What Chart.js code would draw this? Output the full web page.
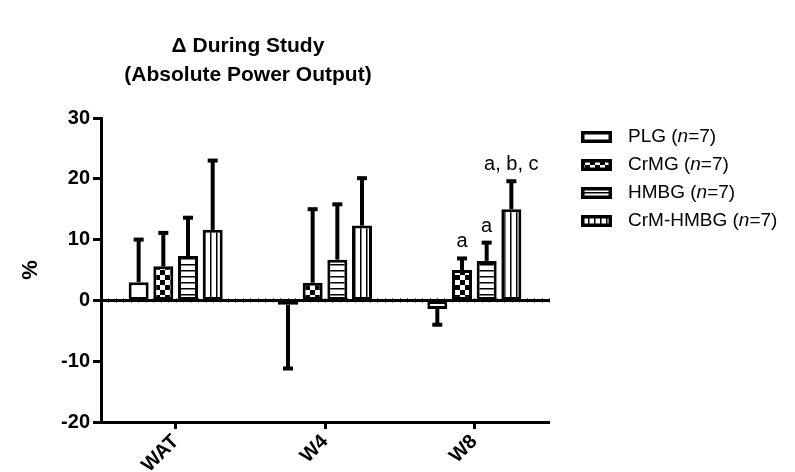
<!DOCTYPE html>
<html>
<head>
<meta charset="utf-8">
<script src="https://cdn.jsdelivr.net/npm/chart.js@4.4.1/dist/chart.umd.min.js"></script>
<style>
  html, body { margin: 0; padding: 0; background: #fff; overflow: hidden; }
  #wrap { width: 795px; height: 472px; }
</style>
</head>
<body>
<div id="wrap"><canvas id="powerChart" width="795" height="472"></canvas></div>
<script>
// data (% change during study)
const timepoints = ['WAT', 'W4', 'W8'];
const groupNames = ['PLG', 'CrMG', 'HMBG', 'CrM-HMBG'];
const groupN = [7, 7, 7, 7];

const plgMean = [3.0, -0.7, -1.4];
const crmgMean = [5.6, 2.9, 5.0];
const hmbgMean = [7.3, 6.7, 6.5];
const crmHmbgMean = [11.6, 12.3, 15.0];

const plgErr = [7.0, 10.5, 2.6];
const crmgErr = [5.5, 12.1, 1.9];
const hmbgErr = [6.3, 9.1, 3.0];
const crmHmbgErr = [11.4, 7.8, 4.6];

const plgSig = ['', '', ''];
const crmgSig = ['', '', 'a'];
const hmbgSig = ['', '', 'a'];
const crmHmbgSig = ['', '', 'a, b, c'];

const yTicks = [-20, -10, 0, 10, 20, 30];

const titleLines = ['\u0394 During Study', '(Absolute Power Output)'];
const FONT = 'Arial, "Liberation Sans", Helvetica, sans-serif';

// fill patterns for the bars
function makePattern(kind) {
    const c = document.createElement('canvas');
    const p = c.getContext('2d');
    c.width = 6; c.height = 6;
    p.fillStyle = '#fff';
    p.fillRect(0, 0, 6, 6);
    p.fillStyle = '#000';
    if (kind === 'check') {
        c.width = 10; c.height = 10;
        p.fillStyle = '#fff'; p.fillRect(0, 0, 10, 10);
        p.fillStyle = '#000';
        p.fillRect(0, 0, 5, 5);
        p.fillRect(5, 5, 5, 5);
    } else if (kind === 'hline') {
        p.fillRect(0, 0, 6, 1.5);
    } else if (kind === 'vline') {
        p.fillRect(0, 0, 1.5, 6);
    }
    return p.createPattern(c, 'repeat');
}

const fills = [makePattern('plain'), makePattern('check'), makePattern('hline'), makePattern('vline')];
const means = [plgMean, crmgMean, hmbgMean, crmHmbgMean];
const errs = [plgErr, crmgErr, hmbgErr, crmHmbgErr];
const sigs = [plgSig, crmgSig, hmbgSig, crmHmbgSig];

// zero line with small minor ticks
const zeroLinePlugin = {
    id: 'zeroLine',
    beforeDatasetsDraw(chart) {
        const {ctx, chartArea, scales: {y}} = chart;
        const y0 = y.getPixelForValue(0);
        ctx.save();
        ctx.strokeStyle = '#000';
        ctx.lineWidth = 3;
        ctx.beginPath();
        ctx.moveTo(chartArea.left, y0);
        ctx.lineTo(chartArea.right, y0);
        ctx.stroke();
        ctx.lineWidth = 1;
        const step = (chartArea.right - chartArea.left) / (timepoints.length * 20);
        for (let x = chartArea.left + step; x < chartArea.right; x += step) {
            ctx.beginPath();
            ctx.moveTo(Math.round(x) + 0.5, y0 - 2);
            ctx.lineTo(Math.round(x) + 0.5, y0 + 2);
            ctx.stroke();
        }
        ctx.restore();
    }
};

// one-sided error bars + significance letters
const errorBarPlugin = {
    id: 'errorBars',
    afterDatasetsDraw(chart) {
        const {ctx, scales: {y}} = chart;
        ctx.save();
        chart.data.datasets.forEach((ds, i) => {
            const meta = chart.getDatasetMeta(i);
            meta.data.forEach((bar, j) => {
                const v = ds.data[j];
                const e = errs[i][j];
                const end = v >= 0 ? v + e : v - e;
                const yv = y.getPixelForValue(v);
                const ye = y.getPixelForValue(end);
                ctx.strokeStyle = '#000';
                ctx.lineWidth = 4;
                ctx.beginPath();
                ctx.moveTo(bar.x, yv);
                ctx.lineTo(bar.x, ye);
                ctx.stroke();
                ctx.beginPath();
                ctx.moveTo(bar.x - 5, ye);
                ctx.lineTo(bar.x + 5, ye);
                ctx.stroke();
                const s = sigs[i][j];
                if (s) {
                    ctx.fillStyle = '#000';
                    ctx.font = '20px ' + FONT;
                    ctx.textAlign = 'center';
                    ctx.textBaseline = 'alphabetic';
                    ctx.fillText(s, bar.x, ye - 11);
                }
            });
        });
        ctx.restore();
    }
};

// title and legend (legend needs the italic n)
const decorPlugin = {
    id: 'decor',
    afterDraw(chart) {
        const ctx = chart.ctx;
        ctx.save();
        ctx.fillStyle = '#000';
        ctx.font = 'bold 21px ' + FONT;
        ctx.textAlign = 'center';
        ctx.textBaseline = 'middle';
        ctx.fillText(titleLines[0], 248, 46);
        ctx.fillText(titleLines[1], 248, 75);

        chart.data.datasets.forEach((ds, i) => {
            const ym = 137 + i * 28;
            const bx = 581, bw = 31, bh = 12;
            ctx.fillStyle = ds.backgroundColor;
            ctx.fillRect(bx, ym - bh / 2, bw, bh);
            ctx.strokeStyle = '#000';
            ctx.lineWidth = 3.5;
            ctx.strokeRect(bx + 1.75, ym - bh / 2 + 1.75, bw - 3.5, bh - 3.5);

            ctx.fillStyle = '#000';
            ctx.textAlign = 'left';
            ctx.textBaseline = 'middle';
            let x = 628;
            const parts = [
                [groupNames[i] + ' (', 'normal'],
                ['n', 'italic'],
                ['=' + groupN[i] + ')', 'normal']
            ];
            parts.forEach(([t, st]) => {
                ctx.font = (st === 'italic' ? 'italic ' : '') + '19px ' + FONT;
                ctx.fillText(t, x, ym);
                x += ctx.measureText(t).width;
            });
        });
        ctx.restore();
    }
};

const ctx = document.getElementById('powerChart').getContext('2d');

new Chart(ctx, {
    type: 'bar',
    data: {
        labels: timepoints,
        datasets: groupNames.map((name, i) => ({
            label: name,
            data: means[i],
            backgroundColor: fills[i],
            borderColor: '#000',
            borderWidth: 3,
            borderSkipped: false,
            categoryPercentage: 0.661,
            barPercentage: 0.81
        }))
    },
    options: {
        responsive: false,
        animation: false,
        layout: { padding: { top: 118, right: 246, bottom: 0, left: 0 } },
        plugins: {
            legend: { display: false },
            title: { display: false },
            tooltip: { enabled: false }
        },
        scales: {
            x: {
                grid: { offset: false, drawOnChartArea: false, drawTicks: true, tickLength: 7, tickWidth: 3, color: '#000' },
                border: { color: '#000', width: 3 },
                ticks: {
                    color: '#000',
                    font: { family: FONT, size: 20, weight: 'bold' },
                    minRotation: 45,
                    maxRotation: 45,
                    padding: 1
                },
                afterFit: (s) => { s.height = 50; }
            },
            y: {
                min: -20,
                max: 30,
                afterBuildTicks: (s) => { s.ticks = yTicks.map(v => ({ value: v })); },
                ticks: {
                    color: '#000',
                    font: { family: FONT, size: 20, weight: 'bold' },
                    padding: 3
                },
                grid: { drawOnChartArea: false, tickLength: 8, tickWidth: 3, color: '#000' },
                border: { color: '#000', width: 3 },
                title: {
                    display: true,
                    text: '%',
                    color: '#000',
                    font: { family: FONT, size: 22, weight: 'bold' },
                    padding: { top: 18, bottom: 0 }
                },
                afterFit: (s) => { s.width = 101; }
            }
        }
    },
    plugins: [zeroLinePlugin, errorBarPlugin, decorPlugin]
});
</script>
</body>
</html>
